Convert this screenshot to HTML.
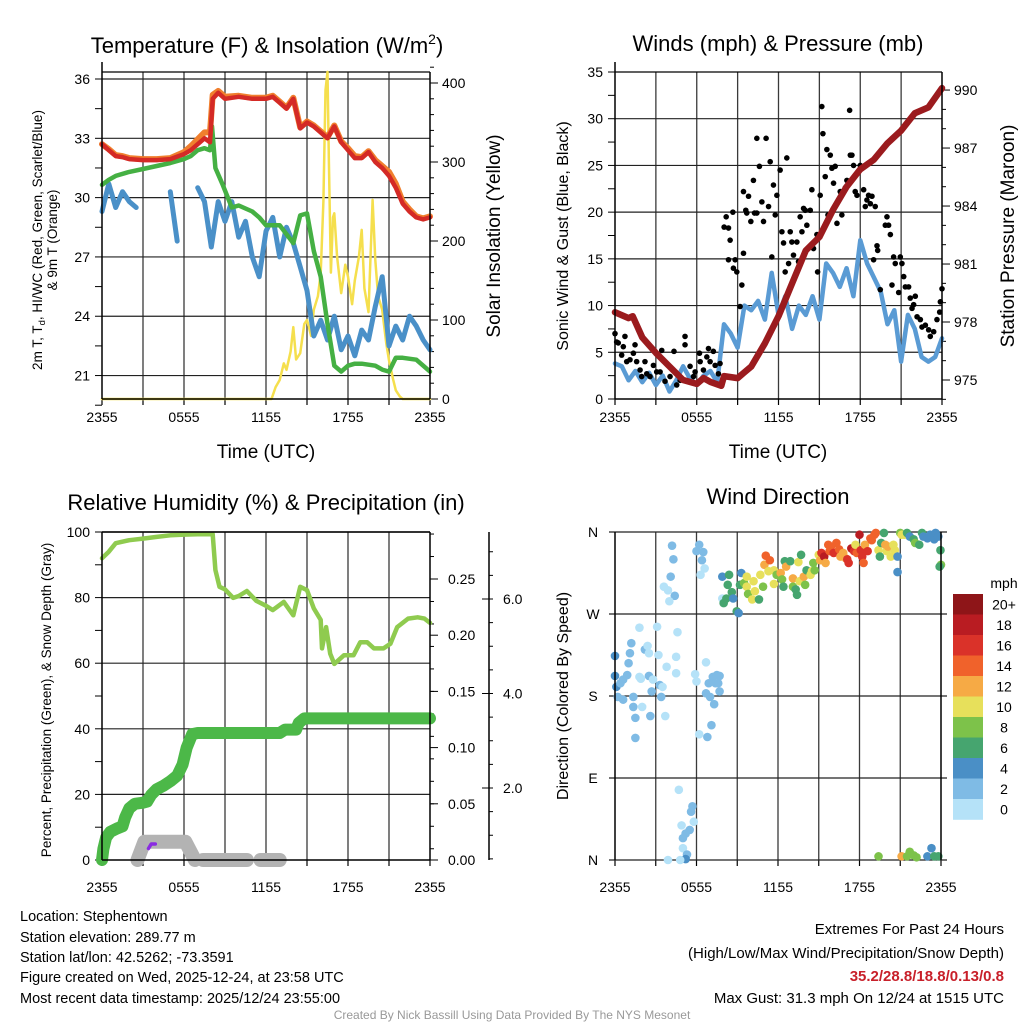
<!DOCTYPE html>
<html><head><meta charset="utf-8"><style>
html,body{margin:0;padding:0;background:#fff;}
svg{display:block;font-family:"Liberation Sans",Arial,sans-serif;}
</style></head><body>
<svg id="chart" xmlns="http://www.w3.org/2000/svg" width="1024" height="1024" viewBox="0 0 1024 1024">
<rect x="0" y="0" width="1024" height="1024" fill="#fff"/>
<g id="layer"></g>
<text x="267" y="53" font-size="22" text-anchor="middle">Temperature (F) &amp; Insolation (W/m<tspan font-size="14" dy="-9">2</tspan><tspan dy="9">)</tspan></text>
<text transform="translate(42,240) rotate(-90)" font-size="13.5" text-anchor="middle">2m T, T<tspan font-size="9.5" dy="3">d</tspan><tspan dy="-3">, HI/WC (Red, Green, Scarlet/Blue)</tspan></text>
<text transform="translate(57,240) rotate(-90)" font-size="13.5" text-anchor="middle">&amp; 9m T (Orange)</text>
<text transform="translate(500,236) rotate(-90)" font-size="19" text-anchor="middle">Solar Insolation (Yellow)</text>
<text x="266" y="458" font-size="19" text-anchor="middle">Time (UTC)</text>
<text x="778" y="51" font-size="22" text-anchor="middle">Winds (mph) &amp; Pressure (mb)</text>
<text transform="translate(568,236) rotate(-90)" font-size="16" text-anchor="middle">Sonic Wind &amp; Gust (Blue, Black)</text>
<text transform="translate(1014,236) rotate(-90)" font-size="19" text-anchor="middle">Station Pressure (Maroon)</text>
<text x="778" y="458" font-size="19" text-anchor="middle">Time (UTC)</text>
<text x="266" y="510" font-size="22" text-anchor="middle">Relative Humidity (%) &amp; Precipitation (in)</text>
<text transform="translate(51,700) rotate(-90)" font-size="13.5" text-anchor="middle">Percent, Precipitation (Green), &amp; Snow Depth (Gray)</text>
<text x="778" y="504" font-size="22" text-anchor="middle">Wind Direction</text>
<text transform="translate(568,696) rotate(-90)" font-size="16" text-anchor="middle">Direction (Colored By Speed)</text>
<text x="1004" y="588" font-size="14" text-anchor="middle">mph</text>
<g font-size="14.5">
<text x="20" y="921">Location: Stephentown</text>
<text x="20" y="942">Station elevation: 289.77 m</text>
<text x="20" y="962">Station lat/lon: 42.5262; -73.3591</text>
<text x="20" y="982">Figure created on Wed, 2025-12-24, at 23:58 UTC</text>
<text x="20" y="1003">Most recent data timestamp: 2025/12/24 23:55:00</text>
</g>
<g font-size="15" text-anchor="end">
<text x="1004" y="934">Extremes For Past 24 Hours</text>
<text x="1004" y="958">(High/Low/Max Wind/Precipitation/Snow Depth)</text>
<text x="1004" y="981" fill="#c8202a" font-weight="bold">35.2/28.8/18.8/0.13/0.8</text>
<text x="1004" y="1003">Max Gust: 31.3 mph On 12/24 at 1515 UTC</text>
</g>
<text x="512" y="1019" font-size="12" fill="#999" text-anchor="middle">Created By Nick Bassill Using Data Provided By The NYS Mesonet</text>
</svg>
<script>
// ---------- data ----------
const xTickLabels = ["2355","0555","1155","1755","2355"];
const tempTicks = [21,24,27,30,33,36];
const solarTicks = [0,100,200,300,400];
const windTicks = [0,5,10,15,20,25,30,35];
const presTicks = [975,978,981,984,987,990];
const rhTicks = [0,20,40,60,80,100];
const precipTicks = [0.00,0.05,0.10,0.15,0.20,0.25];
const snowTicks = [2.0,4.0,6.0];
const dirLabels = ["N","E","S","W","N"];
const dirTickDegs = [0,90,180,270,360];
const speedBins = ["20+","18","16","14","12","10","8","6","4","2","0"];
const speedColors = ["#8e1518","#b91c22","#da3229","#f0622b","#f6aa45","#e7e05b","#7dc24a","#46a56f","#4a8fc6","#7fbbe5","#b5e2f8"];

const redT = [0,0.5,1,1.5,2,3,4,5,6,6.5,7,7.5,7.9,8.1,8.5,9,10,11,12,12.5,13,13.5,14,14.5,15,15.5,16,16.5,17,17.5,18,18.5,19,19.5,20,20.5,21,21.5,22,22.5,23,23.5,24];
const redV = [32.7,32.4,32.1,32.05,31.95,31.9,31.9,31.95,32.2,32.4,32.7,33.0,32.8,35.0,35.3,35.0,35.1,35.0,35.0,35.1,34.8,34.5,35.0,33.5,33.8,33.6,33.3,33.0,33.6,32.8,32.4,32.0,32.0,32.3,31.8,31.5,31.1,30.5,29.7,29.3,29.0,28.9,29.0];
const orangeV = [32.7,32.45,32.15,32.1,32.0,31.95,31.95,32.0,32.3,32.6,32.95,33.3,33.3,35.2,35.4,35.1,35.15,35.05,35.05,35.15,34.85,34.55,35.05,33.55,33.85,33.65,33.35,33.05,33.65,32.85,32.5,32.1,32.05,32.35,31.9,31.6,31.3,30.7,29.8,29.4,29.05,28.95,29.05];
const greenT = [0,0.5,1,2,3,4,5,6,6.5,7,7.5,7.9,8.05,8.3,8.8,9.5,10,11,11.5,12,13,14,14.5,15,15.5,16,16.5,17,17.5,18,18.5,19,20,20.5,21,21.5,22,23,24];
const greenV = [30.65,30.9,31.1,31.3,31.45,31.6,31.75,31.95,32.1,32.4,32.5,32.4,33.6,31.5,30.7,29.5,29.6,29.3,29.0,28.6,28.6,27.7,29.1,29.2,27.3,26.0,23.6,21.5,21.2,21.5,21.6,21.6,21.5,21.3,21.2,21.9,21.9,21.8,21.2];
const halfHours = [0,0.5,1,1.5,2,2.5,3,3.5,4,4.5,5,5.5,6,6.5,7,7.5,8,8.5,9,9.5,10,10.5,11,11.5,12,12.5,13,13.5,14,14.5,15,15.5,16,16.5,17,17.5,18,18.5,19,19.5,20,20.5,21,21.5,22,22.5,23,23.5,24];
const chillV = [29.3,30.7,29.5,30.3,29.8,29.5,null,null,null,null,30.3,27.8,null,null,30.5,29.8,27.5,29.8,28.8,29.8,28.0,28.8,27.0,26.0,28.3,29.0,27.0,28.5,27.7,26.5,25.3,23.0,23.8,22.8,24.0,22.3,23.0,22.0,23.3,22.8,24.5,26.0,22.5,23.5,22.8,24.0,23.5,22.8,22.3];
const solarT = [0,12.4,12.7,13,13.3,13.5,13.8,14,14.2,14.5,14.8,15,15.3,15.5,15.8,16,16.2,16.35,16.5,16.6,16.75,16.9,17,17.2,17.5,17.8,18,18.3,18.5,18.8,19,19.2,19.5,19.8,20,20.2,20.5,20.8,21,21.3,21.5,21.8,22,24];
const solarV = [0,0,15,24,45,37,60,91,50,58,95,100,80,113,130,159,250,391,414,300,160,230,235,180,134,170,155,120,150,180,214,140,110,252,176,130,113,70,49,25,11,3,0,0];

const presT = [0,1,1.3,2,3,4,5,6,6.5,7,7.8,8,9,9.5,10,11,12,13,14,15,16,17,18,19,20,21,22,23,24];
const presV = [978.5,978.2,978.3,977.2,976.4,975.7,975.0,974.8,975.1,974.9,974.7,975.2,975.1,975.4,975.7,976.9,978.3,980.0,981.7,982.4,983.8,985.0,985.9,986.4,987.25,987.9,988.8,989.1,990.1];
const windV = [3.8,3.5,2.0,3.0,1.8,2.8,1.5,2.5,0.8,2.0,3.5,2.2,1.5,2.5,3.0,1.8,8.0,7.0,5.5,10.0,9.5,10.5,8.5,13.5,9.0,11.0,7.5,10.0,9.0,11.0,8.5,14.5,13.5,12.0,14.0,11.0,17.0,14.5,13.0,11.5,8.0,9.5,4.0,9.0,7.5,4.5,4.0,4.5,6.5];
const gustT = [0,0.12,0.24,0.73,0.61,0.49,0.86,1.1,1.35,1.47,1.59,1.84,1.96,2.2,2.33,2.57,2.82,3.06,3.43,3.31,3.67,4.04,4.33,4.53,4.78,5.14,5.14,5.51,5.76,5.88,6.2,6.25,6.49,6.74,6.86,6.98,7.22,7.35,7.59,7.71,
 8.01,8.16,8.33,8.45,8.65,8.33,8.69,8.82,8.94,9.18,9.31,9.43,9.43,9.6,9.67,9.8,9.97,10.16,10.24,10.41,10.41,10.6,10.78,10.9,11.09,11.27,11.39,11.51,11.63,11.76,11.88,12.12,12.25,12.37,12.49,12.61,12.74,12.86,12.98,13.1,13.35,13.47,13.59,13.72,13.84,13.96,14.08,14.33,14.45,14.57,14.82,14.87,15.06,15.18,15.26,15.43,15.55,15.63,15.8,15.92,16.04,16.16,16.29,16.41,16.53,16.65,16.9,17.02,17.22,17.27,17.39,17.51,17.63,17.76,18.0,18.25,18.37,18.49,18.61,18.74,18.86,19.1,18.98,19.23,19.28,19.47,19.84,19.96,20.08,20.21,20.33,20.45,20.57,20.82,20.94,21.06,21.19,21.31,21.55,21.67,21.8,21.92,22.04,22.17,22.41,22.53,22.78,23.02,23.14,23.39,23.63,23.83,23.88,24.0];
const gustV = [7.0,6.1,6.0,6.7,5.6,4.7,4.0,4.2,4.9,5.8,4.0,3.1,2.4,4.0,2.7,2.4,3.6,2.9,5.2,2.9,1.9,2.4,5.1,1.5,2.0,6.7,5.8,3.5,2.4,2.9,4.9,4.0,3.1,4.5,5.4,4.0,5.1,3.6,2.7,3.8,
 18.4,19.5,18.3,17.0,20.0,14.9,14.0,14.9,13.6,9.9,12.2,15.6,22.2,20.2,19.9,21.7,19.0,23.4,19.9,19.9,27.9,24.9,21.1,19.0,27.9,20.6,25.4,15.2,22.9,19.7,21.8,24.5,17.9,16.7,13.6,25.8,14.5,17.9,16.8,15.4,16.8,14.7,19.5,17.9,20.4,20.2,18.6,20.2,22.4,16.1,17.6,13.6,21.8,31.3,28.4,23.8,26.7,19.7,26.1,24.7,23.1,24.9,18.8,21.3,22.2,19.7,22.6,23.4,30.9,26.1,26.1,25.0,22.2,21.8,25.0,22.4,20.6,21.3,21.8,20.9,21.7,20.6,14.9,16.4,15.9,11.7,18.6,19.5,18.6,17.6,12.2,15.2,14.5,11.4,15.2,14.5,13.1,12.0,12.0,10.8,9.7,10.1,11.0,8.8,8.5,7.7,7.9,7.4,6.7,7.2,8.5,9.3,10.4,11.8];

const rhT = [0,0.5,1,2,3,4,5,6,7,8.1,8.3,8.6,9,9.6,10,10.6,11.3,12,12.5,13.3,14,14.5,15,15.5,16,16.1,16.4,16.7,17,17.7,18.4,18.9,19.4,19.9,20.6,21.1,21.6,22.4,23.1,23.6,24];
const rhV = [92,94,96.6,97.5,98,98.5,99,99.2,99.3,99.3,88.4,83.3,82.5,79.9,80.5,82,79,77.5,76.2,78.7,74.6,83.3,82.3,76.7,73.2,64.5,71,62.9,59.8,62.4,62.4,66.4,66.4,64.5,64.5,65.9,71,73.6,74,73.6,72.3];
const precipT = [0,0.1,0.3,0.6,1.1,1.5,1.7,2,2.4,3,3.3,3.6,4,4.5,5,5.5,5.9,6.2,6.6,7,13,13.4,14.2,14.4,14.8,24];
const precipV = [0,0.01,0.02,0.025,0.028,0.03,0.038,0.046,0.05,0.051,0.052,0.058,0.063,0.066,0.07,0.075,0.085,0.1,0.112,0.113,0.113,0.116,0.116,0.122,0.126,0.126];
const snowT = [2.6,3.1,6.1,6.8,7.4,8.5,9.5,10.6,11.6,12.3,13.0];
const snowV = [0,0.8,0.8,0,0,0,0,0,0,0,0];
const snowSeg = [0,0,0,0,1,1,1,1,2,2,2];
const purpleT = [3.4,3.6,3.9];
const purpleV = [0.5,0.7,0.7];

const dirT = [0,0,0.1,0.4,0.6,0.9,0.2,0.6,1.35,1.35,1.5,1.5,1.2,1.1,1.0,1.8,2.0,2.2,2.4,2.5,1.8,1.9,2.5,2.7,2.8,2.6,3.1,3.2,3.3,3.4,3.5,3.7,3.8,4.5,4.5,4.6,
 4.2,4.3,4.1,3.6,3.9,4.4,4.0,6.2,6.0,6.5,6.4,6.6,6.3,
 5.9,6.0,6.7,6.9,7.2,7.5,7.7,7.4,7.6,7.7,6.7,7.0,7.3,7.1,6.2,6.8,
 4.7,5.7,5.6,5.8,5.5,5.2,5.0,4.9,5.0,5.3,5.2,3.9,4.8,
 7.9,8.4,8.3,7.9,8.0,8.2,8.6,8.7,8.96,9.1,9.3,9.2,9.5,9.7,9.7,9.8,10.1,10.3,10.2,10.6,10.7,10.9,11.0,11.1,11.4,11.3,11.7,11.7,11.9,12.2,12.3,12.4,12.5,12.6,12.9,13.1,13.1,13.3,13.4,13.5,13.6,13.7,13.9,14.0,14.1,14.4,14.5,14.6,14.7,15.0,15.1,15.2,15.4,15.5,15.7,15.8,15.9,16.1,16.3,16.5,16.6,16.8,17.0,17.1,17.2,17.4,17.6,17.7,17.8,18.0,18.1,18.2,18.3,18.4,18.6,18.8,18.9,19.1,19.2,19.4,19.5,19.6,19.8,19.9,20.0,20.1,20.3,20.5,20.6,20.8,20.8,21.0,21.1,21.3,21.5,21.7,21.99,22.1,22.4,22.6,22.7,23.0,23.2,23.5,23.6,23.8,23.96,24.0,23.9,
 19.4,21.1,21.5,21.7,22.0,22.2,23.0,23.3,23.5,23.8];
const dirDeg = [224,202,190,194,198,203,179,176,179,168,156,134,238,227,216,255,168,231,235,227,201,199,202,185,198,158,256,225,192,179,190,158,212,205,223,250,
 345,330,311,300,296,290,284,346,339,338,329,320,313,
 204,196,217,194,201,203,202,194,194,185,183,179,171,148,138,135,
 77,59,53,42,33,29,24,38,13,6,1,0,0,
 311,313,302,287,282,287,294,287,273,271,315,302,304,311,300,292,286,295,306,286,313,300,324,334,329,317,303,318,313,315,308,300,328,322,328,309,300,297,291,327,306,335,311,302,318,313,317,326,318,335,329,337,333,326,346,339,344,337,348,341,333,337,331,330,326,342,339,346,337,357,340,333,326,346,339,353,351,357,359,340,333,348,359,346,339,344,333,346,340,333,316,359,357,357,359,355,352,348,346,359,355,353,357,352,359,355,340,324,322,
 4,4,4,9,5,3,4,13,4,4];
const dirSpd = [4,4,4,3,3,3,3,3,3,3,3,3,3,3,3,1,1,3,1,1,1,1,3,3,1,3,1,1,3,3,1,1,1,1,1,1,
 3,3,3,1,1,3,1,3,3,3,3,1,1,
 1,1,1,2,3,3,3,3,3,3,3,3,3,3,1,3,
 1,3,3,1,3,3,3,1,1,3,4,1,1,
 4,6,6,1,6,7,6,4,6,4,4,6,8,10,10,8,10,10,10,6,10,8,12,14,14,10,10,10,8,12,8,6,6,12,6,12,8,6,6,10,10,6,12,8,6,10,10,8,8,10,12,16,18,12,14,14,14,16,14,14,12,12,12,16,16,18,16,10,14,18,16,16,14,12,16,14,14,14,14,10,6,6,6,12,10,12,10,10,10,4,4,8,10,10,6,4,6,8,6,6,4,4,4,4,4,4,6,8,6,
 8,12,8,8,8,8,4,4,6,6];

// ---------- helpers ----------
const NS = "http://www.w3.org/2000/svg";
const layer = document.getElementById('layer');
function mk(tag, attrs, name) {
  const e = document.createElementNS(NS, tag);
  for (const k in attrs) e.setAttribute(k, attrs[k]);
  
  
  layer.appendChild(e);
  return e;
}
function pathD(ts, vs, xf, yf) {
  let d = "", pen = false;
  for (let i = 0; i < ts.length; i++) {
    if (vs[i] === null) { pen = false; continue; }
    d += (pen ? "L" : "M") + xf(ts[i]).toFixed(1) + "," + yf(vs[i]).toFixed(1);
    pen = true;
  }
  return d;
}
function line(x1,y1,x2,y2,stroke,w,name){ return mk('line',{x1:x1,y1:y1,x2:x2,y2:y2,stroke:stroke,'stroke-width':w},name); }
function txt(x,y,s,size,anchor,name){ const t = mk('text',{x:x,y:y,'font-size':size,'text-anchor':anchor},name); t.textContent = s; return t; }
function series(ts, vs, xf, yf, color, w, name){ return mk('path',{d:pathD(ts,vs,xf,yf),fill:'none',stroke:color,'stroke-width':w,'stroke-linejoin':'round','stroke-linecap':'round'},name); }
const GRID = "#3a3a3a";

function timeAxis(x0, x1, yb, yt, labY) {
  const xf = h => x0 + h * (x1 - x0) / 24;
  for (let h = 3; h < 24; h += 3) line(xf(h), yt, xf(h), yb, GRID, 1.3, 'x-gridline');
  for (let h = 0; h <= 24; h += 3) line(xf(h), yb, xf(h), yb + 6, '#000', 1.2, 'x-tick');
  xTickLabels.forEach((s, i) => txt(xf(i * 6), labY, s, 14, 'middle', 'x-tick-label'));
  return xf;
}

// ---------- Panel 1 ----------
(function(){
  const x0=102,x1=430,y0=72,y1=399;
  const yT = v => 79 + (36 - v) * 19.77;
  const yS = v => 399 - v * 0.79;
  const xf = timeAxis(x0,x1,y1,y0,422);
  tempTicks.forEach(v => { line(x0, yT(v), x1, yT(v), '#222', 1.2, 'temp-gridline'); });
  line(x0,y0,x1,y0,'#000',1.2,'temp-plot-top');
  for (let v = 19.5; v <= 36.01; v += 1.5) line(x0-7, yT(v), x0, yT(v), '#000', 1, 'temp-tick');
  tempTicks.forEach(v => txt(x0-12, yT(v)+5, String(v), 14, 'end', 'temp-tick-label'));
  for (let v = 0; v <= 420; v += 20) line(x1, yS(v), x1 + (v % 100 === 0 ? 8 : 4), yS(v), '#000', 1, 'solar-tick');
  solarTicks.forEach(v => txt(x1+12, yS(v)+5, String(v), 14, 'start', 'solar-tick-label'));
  series(solarT, solarV, xf, yS, '#f5df4d', 2.5, 'solar-insolation-line');
  series(halfHours, chillV, xf, yT, '#4a90c8', 5, 'wind-chill-line');
  series(greenT, greenV, xf, yT, '#45b043', 4.5, 'dewpoint-line');
  series(redT, orangeV, xf, yT, '#f07f2e', 6, 'temp-9m-line');
  series(redT, redV, xf, yT, '#d42a26', 4.5, 'temp-2m-line');
  line(x0,62,x0,y1,'#000',1.5,'temp-left-axis');
  line(x1,y0,x1,y1,'#000',1.5,'temp-right-axis');
  line(x0,y1,x1,y1,'#000',1.5,'temp-bottom-axis');
})();

// ---------- Panel 2 ----------
(function(){
  const x0=615,x1=942,y0=72,y1=399;
  const yW = v => 399 - v * 9.343;
  const yP = v => 380 - (v - 975) * 19.33;
  const xf = timeAxis(x0,x1,y1,y0,422);
  windTicks.forEach(v => { if (v>0 && v<35) line(x0, yW(v), x1, yW(v), '#222', 1.2, 'wind-gridline'); });
  line(x0,y0,x1,y0,'#000',1.2,'wind-plot-top');
  for (let v = 0; v <= 35.01; v += 2.5) line(x0-7, yW(v), x0, yW(v), '#000', 1, 'wind-tick');
  windTicks.forEach(v => txt(x0-12, yW(v)+5, String(v), 14, 'end', 'wind-tick-label'));
  for (let v = 974; v <= 990; v += 1) line(x1, yP(v), x1 + ((v-975)%3===0 ? 8 : 4), yP(v), '#000', 1, 'pressure-tick');
  presTicks.forEach(v => txt(x1+12, yP(v)+5, String(v), 14, 'start', 'pressure-tick-label'));
  series(halfHours, windV, xf, yW, '#5a9bd4', 4.5, 'sonic-wind-line');
  gustT.forEach((t, i) => {
    const c = mk('circle',{cx:xf(t),cy:yW(gustV[i]),r:2.8,fill:'#000'},'gust-point');
  });
  series(presT, presV, xf, yP, '#9b1b1e', 6.5, 'pressure-line');
  line(x0,62,x0,y1,'#000',1.5,'wind-left-axis');
  line(x1,y0,x1,y1,'#000',1.5,'wind-right-axis');
  line(x0,y1,x1,y1,'#000',1.5,'wind-bottom-axis');
})();

// ---------- Panel 3 ----------
(function(){
  const x0=102,x1=430,y0=532,y1=860;
  const yRH = v => 860 - v * 3.28;
  const yPr = v => 860 - v * 1124;
  const ySn = v => 860 - v * 22.9;
  const ySA = v => 882.5 - v * 47.25;
  const xf = timeAxis(x0,x1,y1,y0,892);
  rhTicks.forEach(v => { if (v>0) line(x0, yRH(v), x1, yRH(v), '#222', 1.2, 'rh-gridline'); });
  for (let v = 0; v <= 100; v += 10) line(x0-7, yRH(v), x0, yRH(v), '#000', 1, 'rh-tick');
  rhTicks.forEach(v => txt(x0-12, yRH(v)+5, String(v), 14, 'end', 'rh-tick-label'));
  for (let v = 0.01; v <= 0.292; v += 0.02) line(x1, yPr(v), x1+4, yPr(v), '#000', 1, 'precip-tick');
  precipTicks.forEach(v => { line(x1, yPr(v), x1+8, yPr(v), '#000', 1, 'precip-major-tick'); txt(x1+18, yPr(v)+5, v.toFixed(2), 14, 'start', 'precip-tick-label'); });
  line(489,532,489,860,'#000',1.5,'snow-axis');
  for (let v = 0.5; v <= 7.01; v += 0.5) line(489, ySA(v), 493, ySA(v), '#000', 1, 'snow-tick');
  snowTicks.forEach(v => { line(482, ySA(v), 489, ySA(v), '#000', 1, 'snow-major-tick'); txt(503, ySA(v)+5, v.toFixed(1), 14, 'start', 'snow-tick-label'); });
  [0,1,2].forEach(s => {
    const ts = [], vs = [];
    snowT.forEach((t,i) => { if (snowSeg[i]===s) { ts.push(t); vs.push(snowV[i]); } });
    series(ts, vs, xf, ySn, '#b3b3b3', 14, 'snow-depth-segment');
  });
  series(purpleT, purpleV, xf, ySn, '#8a2be2', 3.5, 'liquid-snow-line');
  series(precipT, precipV, xf, yPr, '#4cb848', 12, 'precipitation-line');
  series(rhT, rhV, xf, yRH, '#8fcb4f', 4.5, 'relative-humidity-line');
  line(x0,y0,x1,y0,'#000',1.5,'rh-plot-top');
  line(x0,y0,x0,y1,'#000',1.5,'rh-left-axis');
  line(x1,y0,x1,y1,'#000',1.5,'rh-right-axis');
  line(x0,y1,x1,y1,'#000',1.5,'rh-bottom-axis');
})();

// ---------- Panel 4 ----------
(function(){
  const x0=615,x1=941,y0=532,y1=860;
  const yD = d => 860 - d * 328 / 360;
  const xf = timeAxis(x0,x1,y1,y0,892);
  dirTickDegs.forEach((d,i) => {
    line(x0-6, yD(d), x1+6, yD(d), '#222', 1.2, 'direction-gridline');
    txt(x0-22, yD(d)+5, dirLabels[i], 14, 'middle', 'direction-tick-label');
  });
  const binColor = s => speedColors[10 - Math.min(10, Math.floor(s / 2))];
  dirT.forEach((t,i) => {
    const c = mk('circle',{cx:xf(t),cy:yD(dirDeg[i]),r:4.3,fill:binColor(dirSpd[i])},'direction-point');
  });
  line(x0,y0,x0,y1,'#000',1.5,'direction-left-axis');
  line(x1,y0,x1,y1,'#000',1.5,'direction-right-axis');
  speedBins.forEach((s,i) => {
    const y = 594 + i * 20.5;
    const r = mk('rect',{x:953,y:y,width:30,height:20.8,fill:speedColors[i]},'colorbar-swatch');
    txt(1004, y + 15.5, s, 14, 'middle', 'colorbar-label');
  });
})();
</script>
</body></html>
